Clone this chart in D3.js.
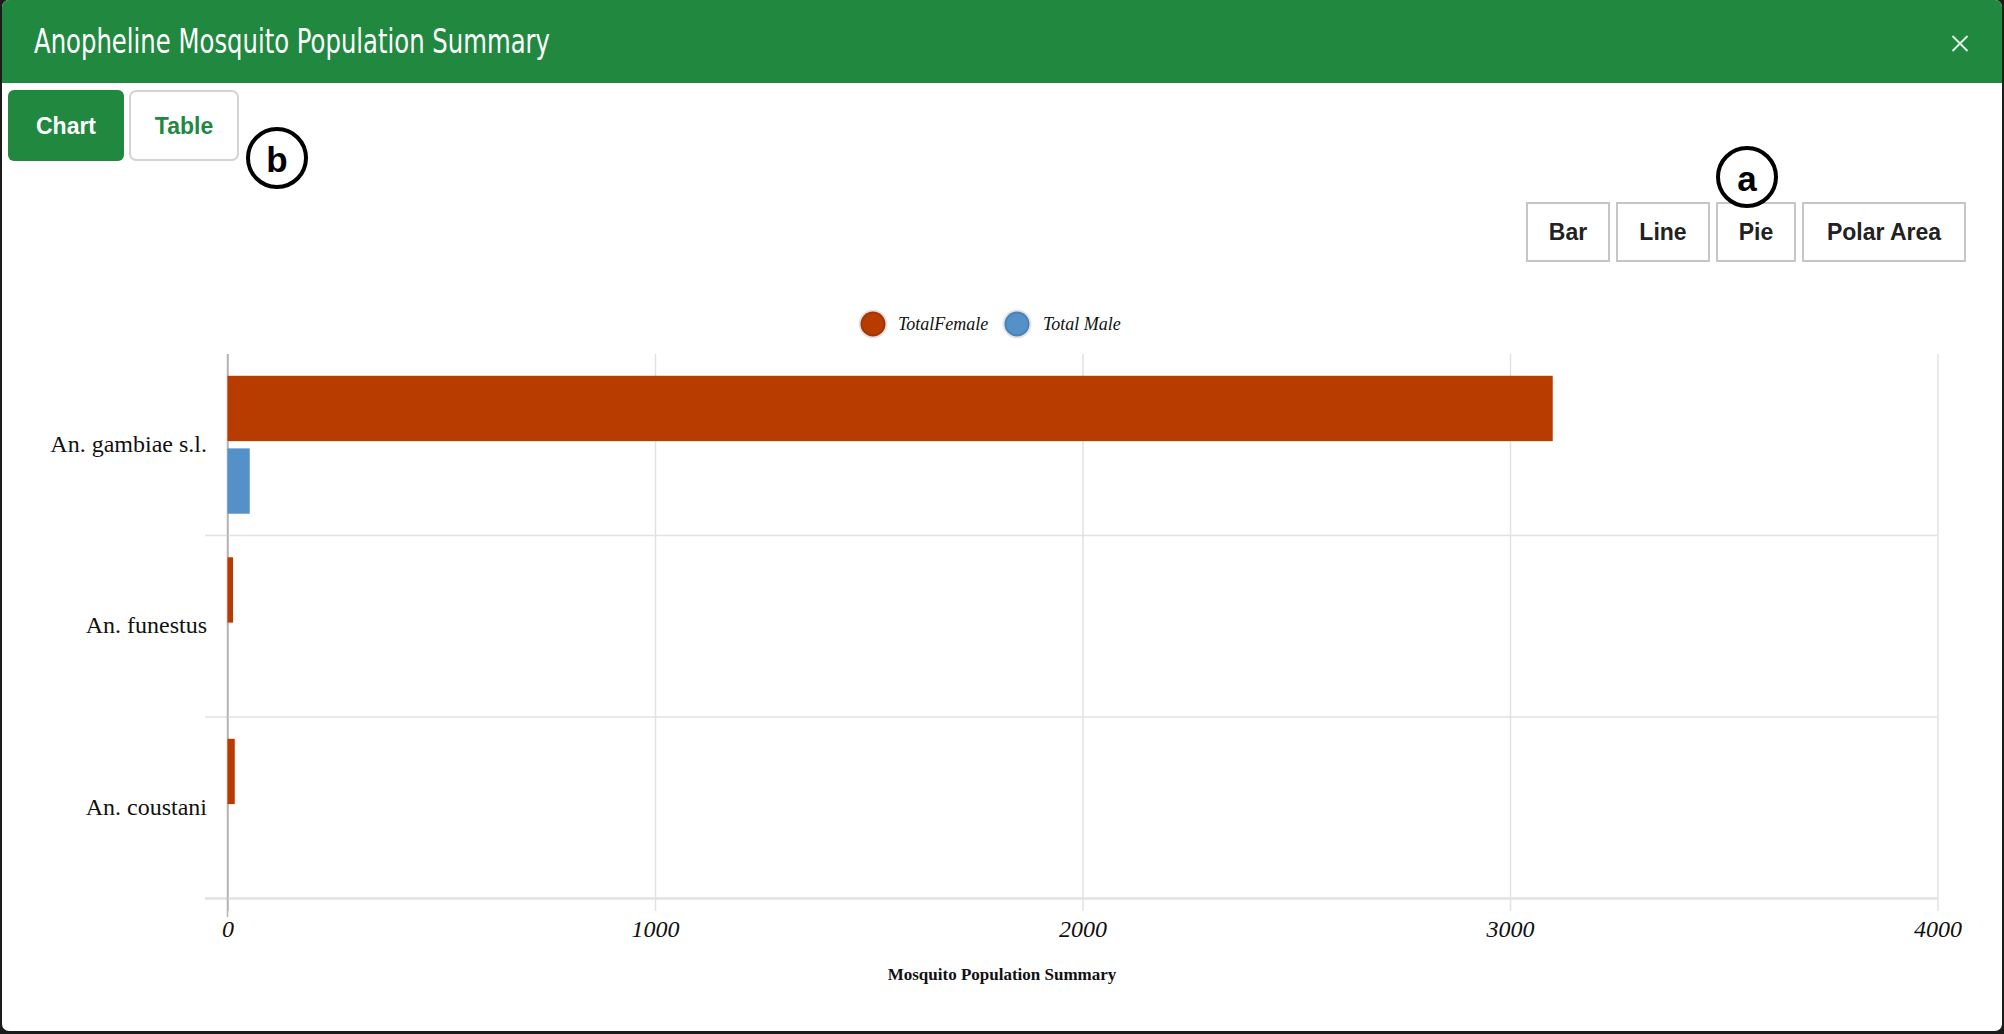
<!DOCTYPE html>
<html>
<head>
<meta charset="utf-8">
<script src="https://cdn.jsdelivr.net/npm/d3@7"></script>
<style>
  html, body { margin: 0; padding: 0; background: #1b1b1b; }
  svg { display: block; }
</style>
</head>
<body>
<svg id="chart" width="2004" height="1034"></svg>
<script>
// ---- data ----
const titleText = "Anopheline Mosquito Population Summary";
const categories = ["An. gambiae s.l.", "An. funestus", "An. coustani"];
const seriesNames = ["TotalFemale", "Total Male"];
const femaleValues = [3100, 13, 17];
const maleValues = [52, 0, 0];
const xTicks = [0, 1000, 2000, 3000, 4000];
const xTickLabels = ["0", "1000", "2000", "3000", "4000"];
const xAxisTitle = "Mosquito Population Summary";
const chartTypes = ["Bar", "Line", "Pie", "Polar Area"];
const viewTabs = ["Chart", "Table"];

const colors = { "TotalFemale": "#b83c00", "Total Male": "#5491c8" };
const green = "#21883f";

const svg = d3.select("#chart");

// modal
const defs = svg.append("defs");
defs.append("clipPath").attr("id", "modalClip")
  .append("rect").attr("x", 2).attr("y", 0).attr("width", 2000).attr("height", 1031).attr("rx", 7);
const modal = svg.append("g").attr("clip-path", "url(#modalClip)");
modal.append("rect").attr("x", 2).attr("y", 0).attr("width", 2000).attr("height", 1031).attr("fill", "#fff");
modal.append("rect").attr("x", 2).attr("y", 0).attr("width", 2000).attr("height", 83).attr("fill", green);

// header title
svg.append("text")
  .attr("x", 34).attr("y", 53)
  .attr("font-family", "'Liberation Sans Narrow', 'DejaVu Sans Condensed', sans-serif")
  .attr("font-size", 34)
  .attr("fill", "#fff")
  .attr("textLength", 516).attr("lengthAdjust", "spacingAndGlyphs")
  .text(titleText);

// close x
const cx = 1960, cy = 43.5, cs = 7.5;
svg.append("path")
  .attr("d", `M${cx-cs},${cy-cs}L${cx+cs},${cy+cs}M${cx+cs},${cy-cs}L${cx-cs},${cy+cs}`)
  .attr("stroke", "#dfeee3").attr("stroke-width", 2).attr("fill", "none");

// tabs
const tabG = svg.append("g");
const tabBoxes = [{x: 8, w: 116}, {x: 129, w: 110}];
viewTabs.forEach((t, i) => {
  const b = tabBoxes[i];
  tabG.append("rect").attr("x", b.x + (i ? 1 : 0)).attr("y", 90 + (i ? 1 : 0))
    .attr("width", b.w - (i ? 2 : 0)).attr("height", 71 - (i ? 2 : 0)).attr("rx", 6)
    .attr("fill", i === 0 ? green : "#fff")
    .attr("stroke", i === 0 ? "none" : "#d3d3d3").attr("stroke-width", 2);
  tabG.append("text").attr("x", b.x + b.w / 2).attr("y", 126)
    .attr("text-anchor", "middle").attr("dominant-baseline", "central")
    .attr("font-family", "'Liberation Sans', Arial, sans-serif").attr("font-weight", "bold")
    .attr("font-size", 23).attr("fill", i === 0 ? "#fff" : green).text(t);
});

// chart type buttons
const btnBoxes = [{x: 1527, w: 82}, {x: 1617, w: 92}, {x: 1717, w: 78}, {x: 1803, w: 162}];
chartTypes.forEach((t, i) => {
  const b = btnBoxes[i];
  svg.append("rect").attr("x", b.x).attr("y", 203).attr("width", b.w).attr("height", 58)
    .attr("fill", "#fff").attr("stroke", "#c6c6c6").attr("stroke-width", 2);
  svg.append("text").attr("x", b.x + b.w / 2).attr("y", 232)
    .attr("text-anchor", "middle").attr("dominant-baseline", "central")
    .attr("font-family", "'Liberation Sans', Arial, sans-serif").attr("font-weight", "bold")
    .attr("font-size", 23).attr("fill", "#222").text(t);
});

// annotation circles
[{l: "b", x: 277, y: 158}, {l: "a", x: 1747, y: 177}].forEach(a => {
  svg.append("circle").attr("cx", a.x).attr("cy", a.y).attr("r", 29)
    .attr("fill", "#fff").attr("stroke", "#000").attr("stroke-width", 4);
  svg.append("text").attr("x", a.x).attr("y", a.y + 1)
    .attr("text-anchor", "middle").attr("dominant-baseline", "central")
    .attr("font-family", "'Liberation Sans', Arial, sans-serif").attr("font-weight", "bold")
    .attr("font-size", 35).attr("fill", "#000").text(a.l);
});

// ---- chart ----
const plot = { left: 227.5, right: 1937.5, top: 354, bottom: 898.5 };
const x = d3.scaleLinear().domain([0, 4000]).range([plot.left, plot.right]);
const y = d3.scaleBand().domain(categories).range([plot.top, plot.bottom]).padding(0);
const bw = y.bandwidth();
const ySub = d3.scaleBand().domain(seriesNames)
  .range([0.1 * bw, 0.9 * bw]).paddingInner(0.1).paddingOuter(0.05);

const chart = svg.append("g");

// vertical grid via axis
const xAxis = d3.axisBottom(x).tickValues(xTicks)
  .tickFormat((d, i) => xTickLabels[i])
  .tickSize(-(911 - plot.top)).tickPadding(9);
const xg = chart.append("g").attr("transform", `translate(0,911)`).call(xAxis);
xg.select(".domain").remove();
xg.selectAll(".tick line").attr("stroke", d => d === 0 ? "#b4b4b4" : "#e2e2e2").attr("stroke-width", 1.5);
xg.selectAll(".tick text")
  .attr("font-family", "'Liberation Serif', 'Times New Roman', serif")
  .attr("font-style", "italic").attr("font-size", 24).attr("fill", "#111");

// horizontal grid lines at band boundaries
chart.append("g").selectAll("line").data(categories).join("line")
  .attr("x1", 205).attr("x2", plot.right)
  .attr("y1", d => y(d) + bw).attr("y2", d => y(d) + bw)
  .attr("stroke", "#e2e2e2").attr("stroke-width", (d, i) => i === categories.length - 1 ? 2.5 : 1.5);

// zero axis line on top of grids
chart.append("line").attr("x1", x(0)).attr("x2", x(0)).attr("y1", plot.top).attr("y2", 917)
  .attr("stroke", "#b4b4b4").attr("stroke-width", 1.5);

// y labels
const yAxis = d3.axisLeft(y).tickSize(0).tickPadding(0);
const yg = chart.append("g").attr("transform", `translate(207,0)`).call(yAxis);
yg.select(".domain").remove();
yg.selectAll(".tick text")
  .attr("font-family", "'Liberation Serif', 'Times New Roman', serif")
  .attr("font-size", 24).attr("fill", "#111").attr("dy", "0.3em");

// bars
const rows = categories.map((c, i) => ({ cat: c, values: [
  { s: seriesNames[0], v: femaleValues[i] },
  { s: seriesNames[1], v: maleValues[i] }
]}));
const barG = chart.append("g");
rows.forEach(r => {
  barG.selectAll(null).data(r.values.filter(d => d.v > 0)).join("rect")
    .attr("x", x(0))
    .attr("y", d => y(r.cat) + ySub(d.s))
    .attr("width", d => x(d.v) - x(0))
    .attr("height", ySub.bandwidth())
    .attr("fill", d => colors[d.s]);
});

// legend
const legend = svg.append("g");
const legendItems = [{s: seriesNames[0], cx: 873, tx: 898}, {s: seriesNames[1], cx: 1017, tx: 1043}];
legendItems.forEach(li => {
  legend.append("circle").attr("cx", li.cx).attr("cy", 324).attr("r", 12.5)
    .attr("fill", colors[li.s]).attr("stroke", "rgba(0,0,0,0.1)").attr("stroke-width", 4);
  legend.append("text").attr("x", li.tx).attr("y", 324).attr("dy", "0.32em")
    .attr("font-family", "'Liberation Serif', 'Times New Roman', serif")
    .attr("font-style", "italic").attr("font-size", 18).attr("fill", "#111").text(li.s);
});

// axis title
svg.append("text").attr("x", 1002).attr("y", 975).attr("dy", "0.32em")
  .attr("text-anchor", "middle")
  .attr("font-family", "'Liberation Serif', 'Times New Roman', serif")
  .attr("font-weight", "bold").attr("font-size", 17).attr("fill", "#111")
  .text(xAxisTitle);
</script>
</body>
</html>
